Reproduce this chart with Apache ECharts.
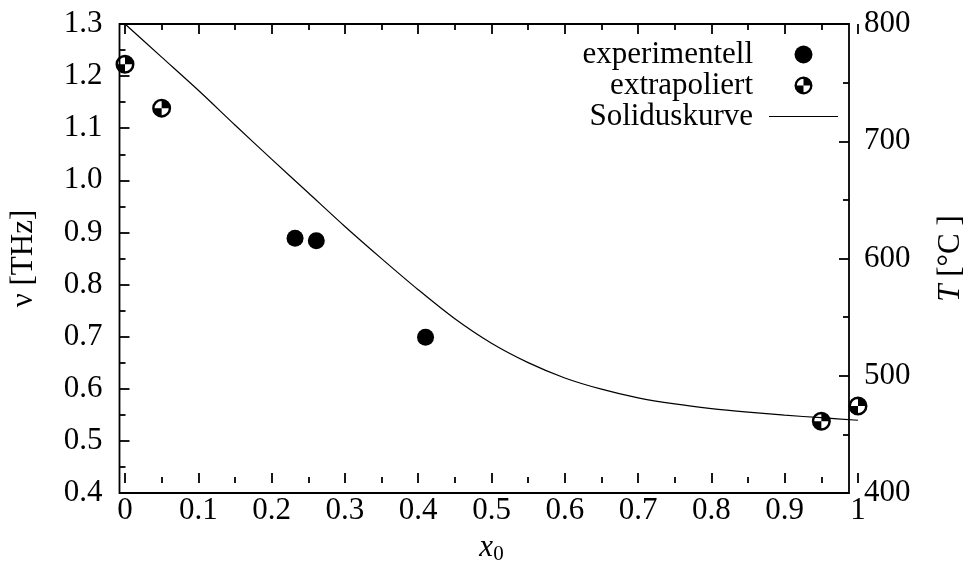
<!DOCTYPE html>
<html><head><meta charset="utf-8">
<script src="https://cdn.jsdelivr.net/npm/echarts@6/dist/echarts.min.js"></script>
</head><body style="margin:0;background:#fff">
<div id="c" style="width:974px;height:570px"></div>
<script>
// ---- data ----
var xTickLabels = ['0','0.1','0.2','0.3','0.4','0.5','0.6','0.7','0.8','0.9','1'];
var yLeftTickLabels = ['0.4','0.5','0.6','0.7','0.8','0.9','1.0','1.1','1.2','1.3'];
var yRightTickLabels = ['400','500','600','700','800'];

var expX = [0.232, 0.261, 0.41];
var expY = [0.880, 0.875, 0.686];

var extX = [0.0, 0.05, 0.95, 1.0];
var extY = [1.221, 1.135, 0.521, 0.551];

var curveX = [0.0, 0.05, 0.1, 0.15, 0.2, 0.25, 0.3, 0.35, 0.4, 0.45, 0.5,
              0.55, 0.6, 0.65, 0.7, 0.75, 0.8, 0.85, 0.9, 0.95, 1.0];
var curveY = [1.300, 1.235, 1.170, 1.102, 1.035, 0.969, 0.903, 0.840, 0.779, 0.722, 0.674,
              0.636, 0.606, 0.584, 0.567, 0.555, 0.546, 0.539, 0.533, 0.528, 0.523];

// ---- helpers ----
function zip(a, b) { return a.map(function (v, i) { return [v, b[i]]; }); }
var F = "'Liberation Serif','Times New Roman',serif";
var FS = 31;
var quadSymbol = 'path://M10,0 A10,10 0 1,1 10,20 A10,10 0 1,1 10,0 Z ' +
  'M10,2.6 A7.4,7.4 0 1,0 10,17.4 A7.4,7.4 0 1,0 10,2.6 Z ' +
  'M10,10 L10,0 A10,10 0 0,1 20,10 Z ' +
  'M10,10 L10,20 A10,10 0 0,1 0,10 Z';
var lineIcon = 'path://M0,0 H69 V1.2 H0 Z';

var tickStyle = { color: '#000', width: 1.8 };
function xAxisCfg(pos, showLabel) {
  return {
    type: 'value', gridIndex: 0, position: pos, min: 0, max: 1, interval: 0.1,
    axisLine: { show: false },
    axisTick: { show: true, inside: true, length: 10, lineStyle: tickStyle },
    minorTick: { show: true, splitNumber: 2, length: 6, lineStyle: tickStyle },
    splitLine: { show: false },
    axisLabel: {
      show: showLabel, margin: 12, color: '#000', fontFamily: F, fontSize: FS,
      formatter: function (v) { return xTickLabels[Math.round(v * 10)]; }
    }
  };
}

var chart = echarts.init(document.getElementById('c'), null, { renderer: 'canvas' });
var xb = xAxisCfg('bottom', true);
xb.name = '{i|x}{s|0}';
xb.nameLocation = 'middle';
xb.nameGap = 47;
xb.nameTextStyle = {
  color: '#000',
  rich: {
    i: { fontFamily: F, fontSize: FS, fontStyle: 'italic', color: '#000' },
    s: { fontFamily: F, fontSize: 21, color: '#000', padding: [14, 0, 0, 0] }
  }
};

chart.setOption({
  animation: false,
  backgroundColor: '#fff',
  grid: [
    { left: 125, right: 116, top: 24, bottom: 77, containLabel: false },
    { left: 119.5, right: 110, top: 24, bottom: 77, show: true, borderColor: '#000', borderWidth: 1.8, backgroundColor: 'transparent', z: 0 }
  ],
  xAxis: [
    xb,
    xAxisCfg('top', false),
    { type: 'value', gridIndex: 1, min: 0, max: 1, show: false }
  ],
  yAxis: [
    { type: 'value', gridIndex: 0, min: 0.4, max: 1.3, show: false },
    {
      type: 'value', gridIndex: 1, position: 'left', min: 0.4, max: 1.3, interval: 0.1,
      axisLine: { show: false },
      axisTick: { show: true, inside: true, length: 10, lineStyle: tickStyle },
      minorTick: { show: true, splitNumber: 2, length: 6, lineStyle: tickStyle },
      splitLine: { show: false },
      axisLabel: {
        margin: 17, color: '#000', fontFamily: F, fontSize: FS,
        formatter: function (v) { return yLeftTickLabels[Math.round((v - 0.4) * 10)]; }
      },
      name: 'ν [THz]', nameLocation: 'middle', nameRotate: 90, nameGap: 80,
      nameTextStyle: { color: '#000', fontFamily: F, fontSize: FS }
    },
    {
      type: 'value', gridIndex: 1, position: 'right', min: 400, max: 800, interval: 100,
      axisLine: { show: false },
      axisTick: { show: true, inside: true, length: 10, lineStyle: tickStyle },
      minorTick: { show: true, splitNumber: 2, length: 6, lineStyle: tickStyle },
      splitLine: { show: false },
      axisLabel: {
        margin: 15, color: '#000', fontFamily: F, fontSize: FS,
        formatter: function (v) { return yRightTickLabels[Math.round((v - 400) / 100)]; }
      },
      name: '{i|T} [°C ]', nameLocation: 'middle', nameRotate: 90, nameGap: 86,
      nameTextStyle: {
        color: '#000', fontFamily: F, fontSize: FS,
        rich: { i: { fontFamily: F, fontSize: FS, fontStyle: 'italic', color: '#000' } }
      }
    }
  ],
  legend: {
    orient: 'vertical', align: 'right', right: 131, top: 34,
    itemWidth: 69, itemHeight: 18, itemGap: 0,
    textStyle: { color: '#000', fontFamily: F, fontSize: FS, lineHeight: 25.5, padding: [0, 11, 0, 0] },
    data: ['experimentell', 'extrapoliert', { name: 'Soliduskurve', icon: lineIcon }]
  },
  series: [
    {
      name: 'Soliduskurve', type: 'line', xAxisIndex: 0, yAxisIndex: 0,
      data: zip(curveX, curveY), smooth: 0.3, symbol: 'none', showSymbol: false,
      lineStyle: { color: '#000', width: 1.2 }, itemStyle: { color: '#000' }, z: 2
    },
    {
      name: 'experimentell', type: 'scatter', xAxisIndex: 0, yAxisIndex: 0,
      data: zip(expX, expY), symbol: 'circle', symbolSize: 17,
      itemStyle: { color: '#000', opacity: 1 }, clip: false, z: 3
    },
    {
      name: 'extrapoliert', type: 'scatter', xAxisIndex: 0, yAxisIndex: 0,
      data: zip(extX, extY), symbol: quadSymbol, symbolSize: 19, symbolKeepAspect: true,
      itemStyle: { color: '#000', opacity: 1 }, clip: false, z: 3
    }
  ]
});
</script>
</body></html>
